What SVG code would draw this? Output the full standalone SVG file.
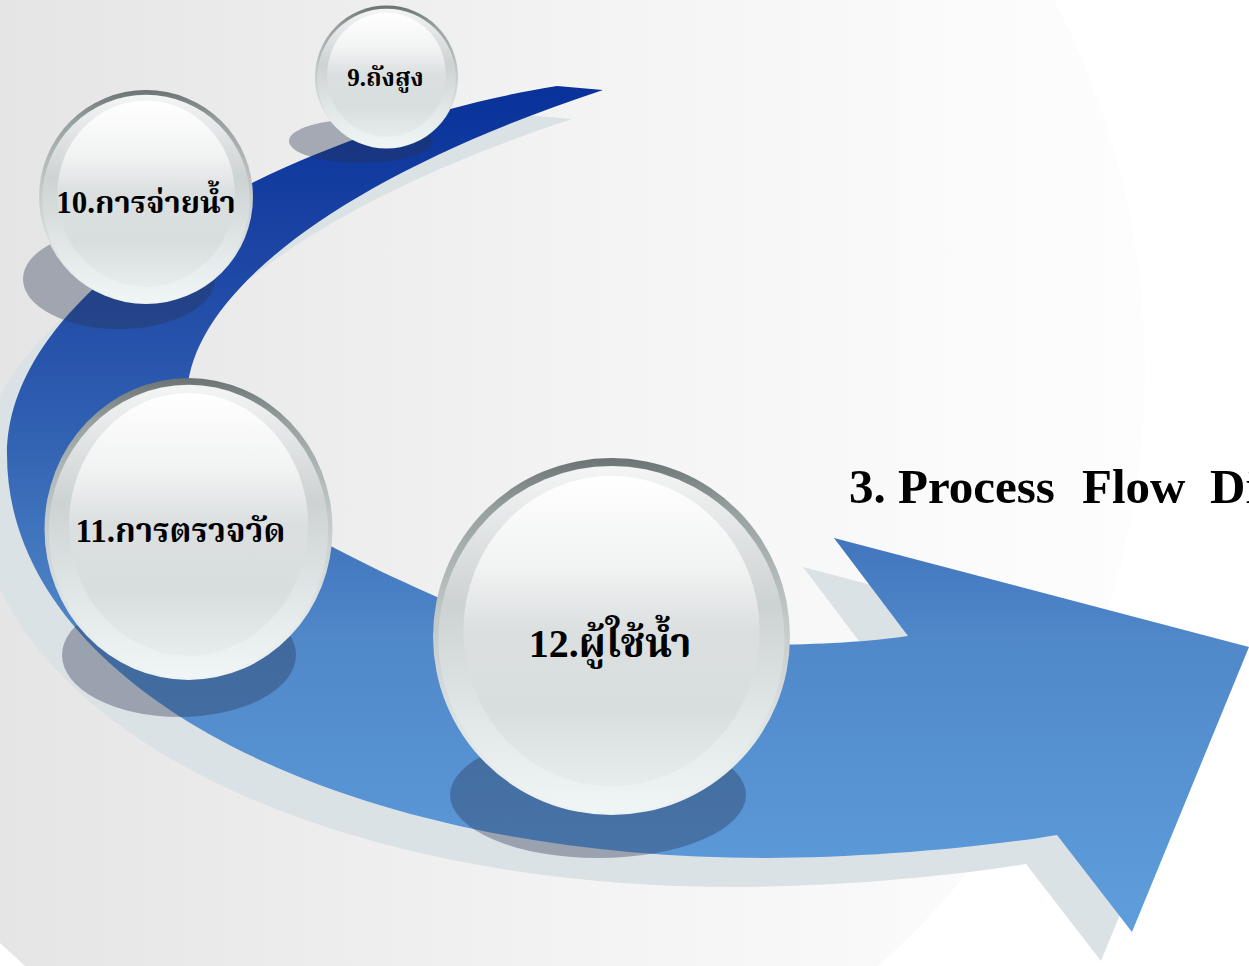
<svg xmlns="http://www.w3.org/2000/svg" width="1249" height="966" viewBox="0 0 1249 966">
  <style>
    .lbl { font-family: "Liberation Serif", "Noto Serif Thai", "Noto Sans Thai", "DejaVu Serif", serif; font-weight: bold; fill: #000; text-anchor: middle; }
    .title { font-family: "Liberation Serif", "Times New Roman", serif; font-weight: bold; font-size: 49px; fill: #000; }
    .pshadow { fill: #28334f; opacity: 0.36; }
  </style>
  <defs>
    <linearGradient id="bgLin" x1="0" y1="0" x2="1145" y2="0" gradientUnits="userSpaceOnUse">
      <stop offset="0" stop-color="#e5e5e5"/>
      <stop offset="0.5" stop-color="#f3f3f3"/>
      <stop offset="0.85" stop-color="#fbfbfb"/>
      <stop offset="1" stop-color="#fdfdfd"/>
    </linearGradient>
    <linearGradient id="arrowGrad" x1="0" y1="86" x2="0" y2="935" gradientUnits="userSpaceOnUse">
      <stop offset="0" stop-color="#08329a"/>
      <stop offset="0.2" stop-color="#1c45a4"/>
      <stop offset="0.4" stop-color="#3060b1"/>
      <stop offset="0.65" stop-color="#5088c9"/>
      <stop offset="1" stop-color="#5f9edc"/>
    </linearGradient>
    <linearGradient id="rimGrad" x1="0" y1="0" x2="0" y2="1">
      <stop offset="0" stop-color="#6b7373"/>
      <stop offset="0.15" stop-color="#98a0a0"/>
      <stop offset="0.45" stop-color="#c3c9c9"/>
      <stop offset="0.8" stop-color="#e2e8e8"/>
      <stop offset="1" stop-color="#eef3f3"/>
    </linearGradient>
    <linearGradient id="bandGrad" x1="0" y1="0" x2="0" y2="1">
      <stop offset="0" stop-color="#f4f5f5"/>
      <stop offset="0.4" stop-color="#cdd2d3"/>
      <stop offset="0.75" stop-color="#e3e8e8"/>
      <stop offset="1" stop-color="#f0f5f5"/>
    </linearGradient>
    <linearGradient id="faceGrad" x1="0" y1="0" x2="0" y2="1">
      <stop offset="0" stop-color="#ffffff"/>
      <stop offset="0.3" stop-color="#f1f2f2"/>
      <stop offset="0.5" stop-color="#dbdfe0"/>
      <stop offset="0.75" stop-color="#d8dede"/>
      <stop offset="1" stop-color="#e7ecec"/>
    </linearGradient>
    <g id="sphere">
      <circle r="100" fill="url(#rimGrad)"/>
      <circle cy="1.5" r="97" fill="url(#bandGrad)"/>
      <ellipse cy="-3" rx="83" ry="87" fill="url(#faceGrad)"/>
    </g>
  </defs>

  <g id="background">
    <rect x="0" y="0" width="1249" height="966" fill="#ffffff"/>
    <circle cx="346" cy="370" r="799" fill="url(#bgLin)"/>
    <polygon points="0,943 25,966 0,966" fill="#ffffff"/>
  </g>

  <g id="connectors">
    <path id="arrowShadow" transform="translate(-31,29)" fill="#dbe2e5"
      d="M557,86 C307,126 7,275 7,455 C7,685 336,858 766,858 C860,858 980,848 1057,835 L1132,932 L1249,647 L834,538 L908,636 C800,652 560,650 437,597 C320,545 190,480 187,400 C185,300 330,180 603,90 Z"/>
    <path id="arrow" fill="url(#arrowGrad)"
      d="M557,86 C307,126 7,275 7,455 C7,685 336,858 766,858 C860,858 980,848 1057,835 L1132,932 L1249,647 L834,538 L908,636 C800,652 560,650 437,597 C320,545 190,480 187,400 C185,300 330,180 603,90 Z"/>
  </g>

  <g id="node9">
    <ellipse class="pshadow" cx="361" cy="141" rx="72" ry="22"/>
    <use href="#sphere" transform="translate(386.5,77) scale(0.715)"/>
    <text class="lbl" x="385.5" y="86" font-size="25">9.ถังสูง</text>
  </g>

  <g id="node10">
    <ellipse class="pshadow" cx="119" cy="279" rx="96" ry="50"/>
    <use href="#sphere" transform="translate(146,197) scale(1.07)"/>
    <text class="lbl" x="146" y="213" font-size="31">10.การจ่ายน้ำ</text>
  </g>

  <g id="node11">
    <ellipse class="pshadow" cx="179" cy="655" rx="117" ry="62"/>
    <use href="#sphere" transform="translate(188.5,529) scale(1.44,1.51)"/>
    <text class="lbl" x="180.5" y="542" font-size="33">11.การตรวจวัด</text>
  </g>

  <g id="node12">
    <ellipse class="pshadow" cx="598" cy="795" rx="148" ry="63"/>
    <use href="#sphere" transform="translate(611.5,636.5) scale(1.785)"/>
    <text class="lbl" x="610" y="657" font-size="40">12.ผู้ใช้น้ำ</text>
  </g>

  <g id="title">
    <text class="title" y="503"><tspan x="849">3. Process</tspan><tspan x="1082">Flow</tspan><tspan x="1210">Di</tspan></text>
  </g>
</svg>
